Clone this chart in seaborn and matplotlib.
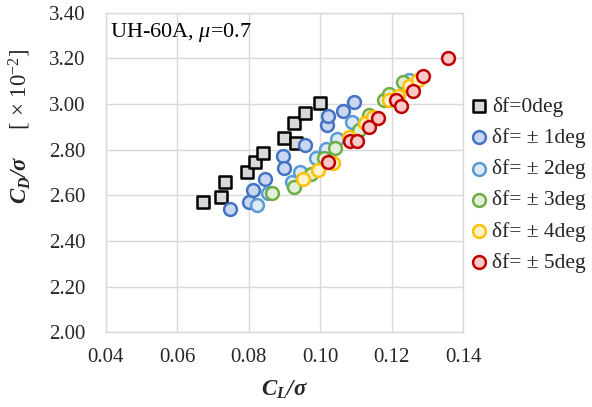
import matplotlib
matplotlib.use("Agg")
import matplotlib.pyplot as plt
import seaborn as sns
import pandas as pd

# ---- data ----
x_d0 = [0.0672, 0.0722, 0.0732, 0.0794, 0.0816, 0.0840, 0.0898, 0.0931, 0.0928, 0.0957, 0.0999]
y_d0 = [2.571, 2.591, 2.657, 2.702, 2.745, 2.785, 2.851, 2.831, 2.918, 2.962, 3.003]

x_d1 = [0.0748, 0.0801, 0.0811, 0.0844, 0.0896, 0.0898, 0.0958, 0.1019, 0.1021, 0.1064, 0.1095]
y_d1 = [2.539, 2.570, 2.623, 2.672, 2.774, 2.718, 2.822, 2.910, 2.949, 2.969, 3.008]

x_d2 = [0.0823, 0.0854, 0.0922, 0.0943, 0.0989, 0.1015, 0.1047, 0.1089, 0.1250]
y_d2 = [2.558, 2.612, 2.660, 2.701, 2.764, 2.803, 2.848, 2.923, 3.105]

x_d3 = [0.0866, 0.0926, 0.0975, 0.1010, 0.1041, 0.1109, 0.1137, 0.1178, 0.1192, 0.1232]
y_d3 = [2.609, 2.635, 2.693, 2.765, 2.807, 2.886, 2.952, 3.018, 3.045, 3.098]

x_d4 = [0.0952, 0.0993, 0.1036, 0.1081, 0.1125, 0.1148, 0.1192, 0.1218, 0.1248, 0.1274]
y_d4 = [2.672, 2.712, 2.740, 2.857, 2.916, 2.944, 3.018, 3.035, 3.079, 3.105]

x_d5 = [0.1023, 0.1084, 0.1103, 0.1138, 0.1161, 0.1211, 0.1227, 0.1260, 0.1288, 0.1359]
y_d5 = [2.745, 2.839, 2.839, 2.899, 2.940, 3.018, 2.991, 3.057, 3.121, 3.202]

labels = ["δf=0deg", "δf= ± 1deg", "δf= ± 2deg", "δf= ± 3deg", "δf= ± 4deg", "δf= ± 5deg"]
xticks = [0.04, 0.06, 0.08, 0.10, 0.12, 0.14]
yticks = [2.00, 2.20, 2.40, 2.60, 2.80, 3.00, 3.20, 3.40]

series_x = [x_d0, x_d1, x_d2, x_d3, x_d4, x_d5]
series_y = [y_d0, y_d1, y_d2, y_d3, y_d4, y_d5]

edge_colors = ["#000000", "#4472C4", "#5B9BD5", "#70AD47", "#FFC000", "#C00000"]
fill_colors = ["#D9D9D9", "#C9D7F0", "#DDEBF7", "#E2EFDA", "#FFF2CC", "#FFC9C9"]
markers = ["s", "o", "o", "o", "o", "o"]

sns.set_theme(style="white")
plt.rcParams["font.family"] = ["Liberation Serif", "DejaVu Serif"]
plt.rcParams["mathtext.fontset"] = "custom"
plt.rcParams["mathtext.rm"] = "Liberation Serif"
plt.rcParams["mathtext.it"] = "Liberation Serif:italic"
plt.rcParams["mathtext.bf"] = "Liberation Serif:bold:italic"

fig = plt.figure(figsize=(5.92, 4.07), dpi=100)
ax = fig.add_axes([106 / 592, 1 - 332.3 / 407, (463 - 106) / 592, (332.3 - 12.7) / 407])

for sx, sy, lab, ec, fc, mk in zip(series_x, series_y, labels, edge_colors, fill_colors, markers):
    df = pd.DataFrame({"x": sx, "y": sy})
    sns.scatterplot(data=df, x="x", y="y", ax=ax, marker=mk, s=85 if mk == "o" else 85,
                    color=fc, edgecolor=ec, linewidth=1.8, label=lab, zorder=3)

ax.set_xlim(0.04, 0.14)
ax.set_ylim(2.00, 3.40)
ax.set_xticks(xticks)
ax.set_yticks(yticks)
ax.set_xticklabels([f"{v:.2f}" for v in xticks], fontsize=15)
ax.set_yticklabels([f"{v:.2f}" for v in yticks], fontsize=15)
ax.tick_params(axis="y", length=0, pad=15)
ax.tick_params(axis="x", length=0, pad=11)
ax.grid(True, color="#D9D9D9", linewidth=1.0)
ax.set_axisbelow(True)
for sp in ax.spines.values():
    sp.set_color("#D9D9D9")
    sp.set_linewidth(1.0)

ax.set_xlabel(r"$\mathbf{C_L/\sigma}$", fontsize=16.5)
ax.xaxis.set_label_coords(0.5, -0.145)
ax.set_ylabel(r"$\mathbf{C_D/\sigma}$     [ $\times$ 10$^{-2}$]", fontsize=16.5)
ax.yaxis.set_label_coords(-0.205, 0.645)

ax.text(110 / 592, 1 - 33 / 407, r"UH-60A, $\mu$=0.7", transform=fig.transFigure,
        fontsize=16, va="center", ha="left", color="#000000")

leg = ax.legend(loc="upper left", bbox_to_anchor=(461 / 592, 1 - 88 / 407),
                bbox_transform=fig.transFigure, frameon=False, fontsize=15.5,
                handletextpad=0.15, handlelength=0.9, labelspacing=0.52, borderaxespad=0)

fig.savefig("out.png", dpi=100)
